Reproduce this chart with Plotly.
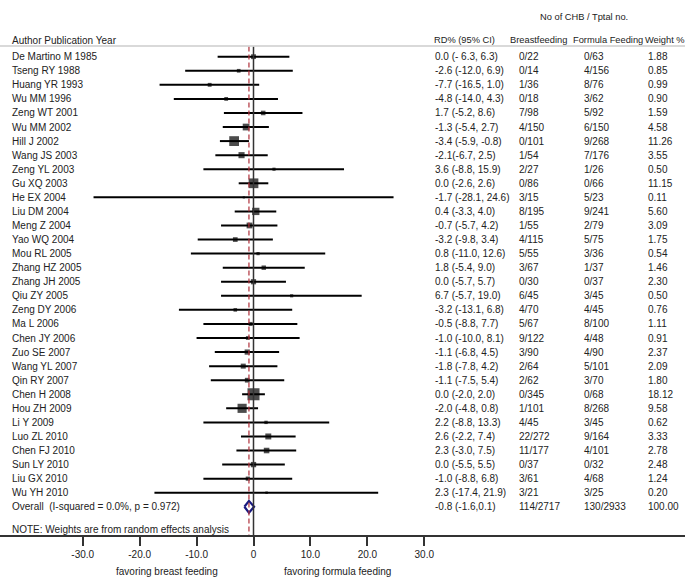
import plotly.graph_objects as go
import math

studies = ["De Martino M 1985","Tseng RY 1988","Huang YR 1993","Wu MM 1996","Zeng WT 2001",
           "Wu MM 2002","Hill J 2002","Wang JS 2003","Zeng YL 2003","Gu XQ 2003","He EX 2004",
           "Liu DM 2004","Meng Z 2004","Yao WQ 2004","Mou RL 2005","Zhang HZ 2005","Zhang JH 2005",
           "Qiu ZY 2005","Zeng DY 2006","Ma L 2006","Chen JY 2006","Zuo SE 2007","Wang YL 2007",
           "Qin RY 2007","Chen H 2008","Hou ZH 2009","Li Y 2009","Luo ZL 2010","Chen FJ 2010",
           "Sun LY 2010","Liu GX 2010","Wu YH 2010"]
rd = [0.0,-2.6,-7.7,-4.8,1.7,-1.3,-3.4,-2.1,3.6,0.0,-1.7,0.4,-0.7,-3.2,0.8,1.8,0.0,6.7,-3.2,-0.5,
      -1.0,-1.1,-1.8,-1.1,0.0,-2.0,2.2,2.6,2.3,0.0,-1.0,2.3]
lo = [-6.3,-12.0,-16.5,-14.0,-5.2,-5.4,-5.9,-6.7,-8.8,-2.6,-28.1,-3.3,-5.7,-9.8,-11.0,-5.4,-5.7,-5.7,
      -13.1,-8.8,-10.0,-6.8,-7.8,-7.5,-2.0,-4.8,-8.8,-2.2,-3.0,-5.5,-8.8,-17.4]
hi = [6.3,6.9,1.0,4.3,8.6,2.7,-0.8,2.5,15.9,2.6,24.6,4.0,4.2,3.4,12.6,9.0,5.7,19.0,6.8,7.7,8.1,4.5,
      4.2,5.4,2.0,0.8,13.3,7.4,7.5,5.5,6.8,21.9]
ci_text = ["0.0 (- 6.3, 6.3)","-2.6 (-12.0, 6.9)","-7.7 (-16.5, 1.0)","-4.8 (-14.0, 4.3)","1.7 (-5.2, 8.6)",
           "-1.3 (-5.4, 2.7)","-3.4 (-5.9, -0.8)","-2.1(-6.7, 2.5)","3.6 (-8.8, 15.9)","0.0 (-2.6, 2.6)",
           "-1.7 (-28.1, 24.6)","0.4 (-3.3, 4.0)","-0.7 (-5.7, 4.2)","-3.2 (-9.8, 3.4)","0.8 (-11.0, 12.6)",
           "1.8 (-5.4, 9.0)","0.0 (-5.7, 5.7)","6.7 (-5.7, 19.0)","-3.2 (-13.1, 6.8)","-0.5 (-8.8, 7.7)",
           "-1.0 (-10.0, 8.1)","-1.1 (-6.8, 4.5)","-1.8 (-7.8, 4.2)","-1.1 (-7.5, 5.4)","0.0 (-2.0, 2.0)",
           "-2.0 (-4.8, 0.8)","2.2 (-8.8, 13.3)","2.6 (-2.2, 7.4)","2.3 (-3.0, 7.5)","0.0 (-5.5, 5.5)",
           "-1.0 (-8.8, 6.8)","2.3 (-17.4, 21.9)"]
breast = ["0/22","0/14","1/36","0/18","7/98","4/150","0/101","1/54","2/27","0/86","3/15","8/195","1/55",
          "4/115","5/55","3/67","0/30","6/45","4/70","5/67","9/122","3/90","2/64","2/62","0/345","1/101",
          "4/45","22/272","11/177","0/37","3/61","3/21"]
formula = ["0/63","4/156","8/76","3/62","5/92","6/150","9/268","7/176","1/26","0/66","5/23","9/241","2/79",
           "5/75","3/36","1/37","0/37","3/45","4/45","8/100","4/48","4/90","5/101","3/70","0/68","8/268",
           "3/45","9/164","4/101","0/32","4/68","3/25"]
weights = [1.88,0.85,0.99,0.90,1.59,4.58,11.26,3.55,0.50,11.15,0.11,5.60,3.09,1.75,0.54,1.46,2.30,0.50,
           0.76,1.11,0.91,2.37,2.09,1.80,18.12,9.58,0.62,3.33,2.78,2.48,1.24,0.20]

overall_label = "Overall  (I-squared = 0.0%, p = 0.972)"
overall_rd, overall_lo, overall_hi = -0.8, -1.6, 0.1
overall_ci = "-0.8 (-1.6,0.1)"
overall_breast = "114/2717"
overall_formula = "130/2933"
overall_weight = "100.00"

tick_vals = [-30, -20, -10, 0, 10, 20, 30]
tick_text = ["-30.0", "-20.0", "-10.0", "0", "10.0", "20.0", "30.0"]

W, H = 685, 577
FONT = "Liberation Sans Narrow, Arial Narrow, sans-serif"
FS = 10
FS_HEAD = 9.3
TXT = "#222222"

n = len(studies)
rows = list(range(n))
ov_row = n

fig = go.Figure()

lx, ly = [], []
for i in rows:
    lx += [lo[i], hi[i], None]
    ly += [i, i, None]
fig.add_trace(go.Scatter(x=lx, y=ly, mode="lines", line=dict(color="black", width=2),
                         hoverinfo="skip", showlegend=False))
fig.add_trace(go.Scatter(x=rd, y=rows, mode="markers",
                         marker=dict(symbol="square", color="black",
                                     size=[1.4 + 2.5 * math.sqrt(w) for w in weights],
                                     line=dict(width=0)),
                         showlegend=False))
dh = 0.42
fig.add_trace(go.Scatter(x=[overall_lo, overall_rd, overall_hi, overall_rd, overall_lo],
                         y=[ov_row, ov_row - dh, ov_row, ov_row + dh, ov_row],
                         mode="lines", line=dict(color="#1a1a80", width=2.2),
                         showlegend=False))

y_top = -0.72
row0, rowstep = 56.7, 14.065
axis_px = 535
y_bot = (axis_px - row0) / rowstep
fig.add_shape(type="line", xref="x", yref="y", x0=0, x1=0, y0=y_top, y1=y_bot,
              line=dict(color="#333333", width=1.5))
fig.add_shape(type="line", xref="x", yref="y", x0=overall_rd, x1=overall_rd, y0=y_top, y1=y_bot,
              line=dict(color="#b0303a", width=1.2, dash="5px,3px"))
fig.add_shape(type="line", xref="paper", yref="y", x0=0, x1=1, y0=-0.76, y1=-0.76,
              line=dict(color="#cccccc", width=1.5))

ann = []
def add(text, xpix, y, anchor="left", size=FS):
    ann.append(dict(text=text, x=xpix / W, y=y, xref="paper", yref="y", xanchor=anchor,
                    yanchor="middle", showarrow=False, font=dict(family=FONT, size=size, color=TXT)))

col_lab, col_ci, col_bf, col_ff, col_w = 10, 433, 517, 582, 646
for i in rows:
    add(studies[i], col_lab, i)
    add(ci_text[i], col_ci, i)
    add(breast[i], col_bf, i)
    add(formula[i], col_ff, i)
    add(f"{weights[i]:.2f}", col_w, i)
add(overall_label, col_lab, ov_row)
add(overall_ci, col_ci, ov_row)
add(overall_breast, col_bf, ov_row)
add(overall_formula, col_ff, ov_row)
add(overall_weight, col_w, ov_row)
add("NOTE: Weights are from random effects analysis", col_lab, (529.3 - row0) / rowstep)

hy = (40 - row0) / rowstep
add("Author Publication Year", col_lab, hy)
add("RD% (95% CI)", 432, hy, size=FS_HEAD)
add("Breastfeeding", 508, hy, size=FS_HEAD)
add("Formula Feeding", 571, hy, size=FS_HEAD)
add("Weight %", 643, hy, size=FS_HEAD)
add("No of CHB / Tptal no.", 584, (17 - row0) / rowstep, anchor="center", size=FS_HEAD)

plot_h = axis_px
for t, xv in [("favoring breast feeding", -15.2), ("favoring formula feeding", 14.8)]:
    ann.append(dict(text=t, x=xv, y=-(571 - axis_px) / plot_h, xref="x", yref="paper",
                    xanchor="center", yanchor="middle", showarrow=False,
                    font=dict(family=FONT, size=FS, color=TXT)))

scale = 5.693
x0pix = 253.5
fig.update_layout(
    width=W, height=H, margin=dict(l=0, r=0, t=0, b=H - axis_px),
    paper_bgcolor="white", plot_bgcolor="white",
    annotations=ann,
    xaxis=dict(range=[-x0pix / scale, (W - x0pix) / scale], showgrid=False, zeroline=False,
               showline=True, linecolor="#333333", linewidth=2, ticks="outside", ticklen=9,
               tickwidth=2, tickcolor="#333333", tickvals=tick_vals, ticktext=tick_text,
               tickfont=dict(family=FONT, size=FS, color=TXT)),
    yaxis=dict(range=[y_bot, -row0 / rowstep], showgrid=False, zeroline=False,
               showticklabels=False, showline=False),
    showlegend=False,
)
fig.write_html("out.html", config={"displayModeBar": False},
               post_script="document.body.style.margin='0';document.body.style.overflow='hidden';")
